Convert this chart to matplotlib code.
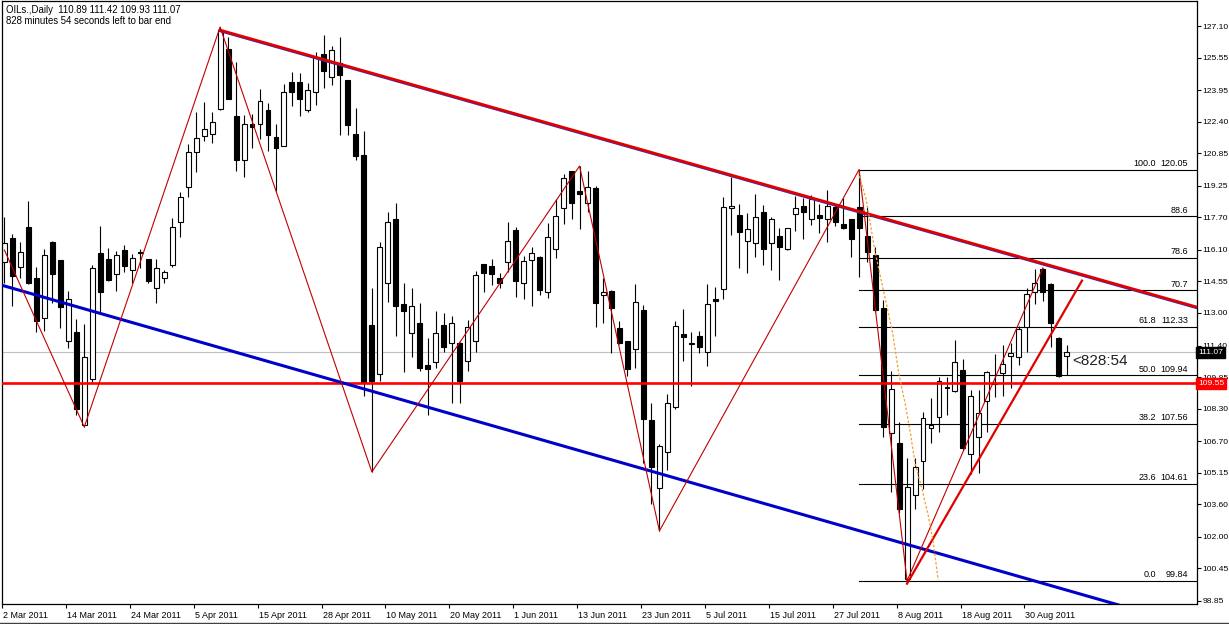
import numpy as np
import matplotlib
matplotlib.use("Agg")
import matplotlib.pyplot as plt
import matplotlib.transforms as mtransforms

# daily OHLC, one row per bar (oldest first)
opens = [115.51, 116.69, 115.26, 117.23, 114.72, 112.75, 116.49, 115.60, 111.62, 112.07,
         107.50, 109.76, 115.95, 115.65, 114.92, 116.09, 115.11, 116.00, 115.65, 114.23,
         114.72, 115.36, 117.47, 119.19, 120.91, 121.70, 121.80, 123.02, 125.97, 122.68,
         120.52, 122.29, 122.29, 122.97, 121.65, 121.21, 124.35, 124.35, 122.97, 123.86,
         125.73, 124.60, 125.28, 124.45, 121.80, 120.76, 112.41, 110.00, 114.47, 117.62,
         113.44, 112.02, 112.51, 110.44, 110.59, 112.41, 111.53, 111.53, 110.64, 111.62,
         115.41, 115.31, 114.72, 115.51, 117.08, 114.47, 115.60, 115.75, 114.03, 116.14,
         118.16, 119.98, 118.99, 118.40, 119.14, 113.88, 114.08, 112.26, 111.62, 111.23,
         113.15, 107.74, 104.40, 106.17, 108.38, 111.97, 111.53, 111.87, 111.08, 113.69,
         114.18, 118.16, 117.82, 116.54, 116.44, 117.96, 116.44, 116.78, 116.14, 117.86,
         118.26, 117.62, 117.82, 117.62, 118.21, 117.37, 117.62, 118.21, 116.78, 115.85,
         113.24, 107.10, 106.61, 99.95, 104.06, 105.73, 107.35, 107.89, 109.36, 109.17,
         110.20, 106.07, 106.90, 108.67, 109.51, 110.05, 110.89, 110.84, 112.31, 114.03,
         115.16, 114.42, 111.77, 110.89]
highs = [117.72, 116.88, 116.49, 118.50, 115.26, 116.14, 116.54, 115.60, 114.08, 112.70,
         112.46, 115.36, 117.27, 116.19, 116.05, 116.34, 115.90, 116.14, 115.65, 115.65,
         115.11, 117.67, 118.95, 121.30, 122.88, 123.37, 122.88, 127.05, 126.56, 125.33,
         122.73, 122.78, 124.01, 123.32, 122.29, 124.25, 124.84, 124.79, 124.30, 125.83,
         126.66, 126.12, 126.56, 124.45, 123.07, 121.94, 114.23, 116.49, 117.96, 118.40,
         114.47, 114.23, 113.49, 111.77, 113.10, 113.00, 112.85, 111.57, 112.66, 115.06,
         115.41, 115.65, 114.97, 117.47, 117.23, 115.80, 116.24, 115.80, 117.42, 118.60,
         119.83, 119.98, 120.22, 119.98, 119.24, 114.72, 114.13, 112.61, 111.62, 114.42,
         113.39, 108.58, 106.56, 109.02, 112.61, 113.20, 112.07, 112.11, 114.42, 114.28,
         118.70, 119.68, 118.36, 117.91, 118.85, 118.31, 117.72, 117.18, 117.18, 118.75,
         118.65, 118.80, 118.36, 119.04, 118.36, 118.65, 117.62, 120.05, 118.21, 116.24,
         113.64, 110.15, 107.64, 105.87, 105.87, 108.13, 108.82, 109.85, 109.85, 111.67,
         110.74, 109.22, 109.22, 110.15, 110.99, 111.43, 111.53, 112.36, 114.23, 115.16,
         115.21, 114.47, 111.82, 111.42]
lows = [114.47, 113.34, 114.72, 114.42, 112.07, 112.11, 113.49, 112.26, 111.28, 107.99,
        107.40, 109.61, 113.00, 114.57, 114.08, 115.01, 114.47, 115.21, 114.47, 113.49,
        114.47, 115.26, 116.73, 118.70, 119.93, 121.45, 121.35, 122.97, 123.52, 119.98,
        119.68, 121.11, 121.55, 120.96, 118.99, 121.21, 123.17, 122.68, 122.88, 123.22,
        124.06, 124.20, 121.75, 121.75, 120.52, 108.92, 105.19, 109.66, 113.54, 111.87,
        110.10, 110.84, 110.15, 107.99, 110.30, 111.08, 108.58, 108.58, 110.15, 111.08,
        114.03, 114.37, 114.23, 115.01, 113.79, 113.69, 113.34, 113.88, 113.74, 115.70,
        117.37, 117.62, 117.13, 117.96, 112.31, 112.51, 111.03, 111.48, 109.90, 110.30,
        105.63, 103.61, 102.29, 105.28, 108.28, 110.64, 109.41, 111.03, 110.39, 111.87,
        113.69, 116.83, 115.21, 114.97, 115.75, 115.36, 115.11, 114.62, 116.09, 117.03,
        116.64, 117.32, 116.93, 116.49, 117.27, 117.13, 115.75, 114.77, 115.51, 113.05,
        106.90, 104.20, 103.17, 99.84, 103.37, 104.35, 106.61, 107.15, 107.99, 109.12,
        106.27, 105.09, 105.14, 107.15, 108.87, 108.92, 109.31, 110.44, 111.08, 113.44,
        113.59, 111.33, 109.85, 109.93]
closes = [116.44, 114.82, 116.00, 114.47, 112.61, 115.85, 114.92, 113.29, 113.69, 108.28,
          110.84, 115.21, 114.03, 114.62, 115.85, 115.31, 115.70, 115.95, 114.57, 115.21,
          115.01, 117.23, 118.70, 120.91, 121.60, 122.04, 122.39, 126.91, 123.52, 120.52,
          122.29, 122.14, 123.42, 121.75, 121.11, 123.86, 123.86, 123.52, 123.96, 125.58,
          124.89, 125.92, 124.69, 122.24, 120.71, 109.61, 109.66, 116.24, 117.47, 113.34,
          113.10, 113.34, 110.30, 110.25, 112.02, 111.33, 112.51, 109.66, 112.31, 114.87,
          114.97, 114.92, 114.47, 116.54, 114.57, 115.55, 115.95, 114.13, 116.73, 117.77,
          119.63, 118.40, 118.85, 119.19, 113.49, 114.03, 113.24, 111.53, 110.25, 113.54,
          107.79, 105.43, 106.46, 108.58, 112.36, 111.82, 111.48, 111.33, 113.44, 113.59,
          118.21, 118.26, 116.98, 117.13, 117.72, 116.14, 117.62, 116.24, 117.18, 118.16,
          117.96, 118.60, 117.67, 118.26, 117.47, 117.18, 116.64, 117.18, 116.00, 113.15,
          107.40, 109.27, 103.37, 104.45, 105.43, 107.84, 107.50, 109.66, 109.31, 110.59,
          106.37, 108.92, 108.09, 110.10, 109.56, 110.49, 111.03, 112.21, 113.93, 114.47,
          114.03, 112.51, 109.90, 111.07]

date_labels = ["2 Mar 2011", "14 Mar 2011", "24 Mar 2011", "5 Apr 2011", "15 Apr 2011",
               "28 Apr 2011", "10 May 2011", "20 May 2011", "1 Jun 2011", "13 Jun 2011",
               "23 Jun 2011", "5 Jul 2011", "15 Jul 2011", "27 Jul 2011", "8 Aug 2011",
               "18 Aug 2011", "30 Aug 2011"]
price_ticks = [127.10, 125.55, 123.95, 122.40, 120.85, 119.25, 117.70, 116.10, 114.55,
               113.00, 111.40, 109.85, 108.30, 106.70, 105.15, 103.60, 102.00, 100.45, 98.85]

# drawn objects (bar index, price)
zigzag_x = [0, 10, 27, 46, 72, 82, 107, 113, 130]
zigzag_y = [116.09, 107.40, 127.05, 105.19, 120.22, 102.29, 120.05, 99.84, 115.21]
resist_x = [27, 150]
resist_y = [126.90, 113.21]
channel_x = [-1, 150]
channel_y = [114.44, 97.47]
support_x = [113, 134.9]
support_y = [99.70, 114.59]
curve_x = [106.9, 107.9, 109.0, 110.2, 111.2, 112.0, 112.8, 113.4, 114.0, 114.9, 115.7, 116.3, 116.9]
curve_y = [119.93, 118.55, 116.00, 113.83, 112.02, 109.95, 108.48, 107.15, 105.63, 104.30,
           102.97, 101.70, 99.88]
fib_levels = ["100.0", "88.6", "78.6", "70.7", "61.8", "50.0", "38.2", "23.6", "0.0"]
fib_prices = [120.05, 117.75, 115.72, 114.13, 112.33, 109.94, 107.56, 104.61, 99.84]
fib_show_price = [True, False, False, False, True, True, True, True, True]
fib_start = 107
level_line = 109.55
last_price = 111.07

plt.rcParams['font.family'] = 'Liberation Sans'
fs = 6.5
fig = plt.figure(figsize=(12.29, 6.24), dpi=100)
W, H = 1229, 624
ax = fig.add_axes([2 / W, 20 / H, 1195 / W, 603 / H])

n = len(opens)
x = np.arange(n)
o = np.array(opens); c = np.array(closes)
up = c >= o
ax.vlines(x, lows, highs, color='black', lw=0.8, zorder=2)
bottoms = np.minimum(o, c)
heights = np.maximum(np.abs(c - o), 0.02)
ax.bar(x, heights, 0.62, bottom=bottoms, color=np.where(up, 'white', 'black'),
       edgecolor='black', linewidth=0.8, zorder=2.5)

ax.axhline(last_price, color='#c0c0c0', lw=0.8, zorder=1)
ax.axhline(level_line, color='#ff0000', lw=1.9, zorder=3)

blend = mtransforms.blended_transform_factory(ax.transAxes, ax.transData)
for lv, pr, show in zip(fib_levels, fib_prices, fib_show_price):
    ax.plot([fib_start, 150], [pr, pr], color='black', lw=0.8, zorder=1.5)
    if show:
        ax.text(0.9925, pr + 0.07, f"{pr:.2f}", transform=blend, ha='right', va='bottom',
                fontsize=fs, zorder=4)
        ax.text(0.9655, pr + 0.07, lv, transform=blend, ha='right', va='bottom',
                fontsize=fs, zorder=4)
    else:
        ax.text(0.9925, pr + 0.07, lv, transform=blend, ha='right', va='bottom',
                fontsize=fs, zorder=4)

ax.plot(channel_x, channel_y, color='#0000c8', lw=2.2, zorder=3)
ax.plot(resist_x, [v - 0.05 for v in resist_y], color='#3030c0', lw=1.6, zorder=3)
ax.plot(resist_x, resist_y, color='#e00000', lw=2.0, zorder=3.1)
ax.plot(zigzag_x, zigzag_y, color='#c00000', lw=0.8, zorder=3.2)
ax.plot(support_x, support_y, color='#e00000', lw=1.6, zorder=3.2)
ax.plot(curve_x, curve_y, color='#f0a030', lw=0.9, ls=(0, (2, 1.5)), zorder=3.2)

ax.text(n - 0.3, 110.64, "<828:54", fontsize=11, color='#202020', va='center', ha='left', zorder=4)

ax.set_xlim(-0.09, 149.3)
ax.set_ylim(98.70, 128.33)

ax.yaxis.tick_right()
ax.set_yticks(price_ticks)
ax.set_yticklabels([f"{v:.2f}" for v in price_ticks], fontsize=6.1)
ax.tick_params(axis='y', direction='out', length=3, width=0.8, pad=1)

ax.set_xticks(np.arange(len(date_labels)) * 8 - 0.3)
ax.set_xticklabels(date_labels, fontsize=fs, ha='left')
ax.tick_params(axis='x', direction='out', length=3, width=0.8, pad=2)
for lab in ax.get_xticklabels():
    lab.set_transform(lab.get_transform() + mtransforms.ScaledTranslation(1 / 100, 0, fig.dpi_scale_trans))

for s in ax.spines.values():
    s.set_linewidth(0.9)

ax.text(1.001, last_price, "111.07", transform=blend, fontsize=6.1, color='white', va='center',
        ha='left', bbox=dict(boxstyle='square,pad=0.25', fc='black', ec='black'), zorder=5, clip_on=False)
ax.text(1.001, level_line, "109.55", transform=blend, fontsize=6.1, color='white', va='center',
        ha='left', bbox=dict(boxstyle='square,pad=0.25', fc='#ff0000', ec='#ff0000'), zorder=5, clip_on=False)

ax.text(0.0035, 0.993, "OILs.,Daily  110.89 111.42 109.93 111.07", transform=ax.transAxes,
        fontsize=6.9, va='top', ha='left')
ax.text(0.0035, 0.975, "828 minutes 54 seconds left to bar end", transform=ax.transAxes,
        fontsize=6.9, va='top', ha='left')

fig.add_artist(plt.Line2D([0, 1], [1.5 / H, 1.5 / H], color='#404040', lw=1.0))

fig.savefig("out.png", dpi=100)
